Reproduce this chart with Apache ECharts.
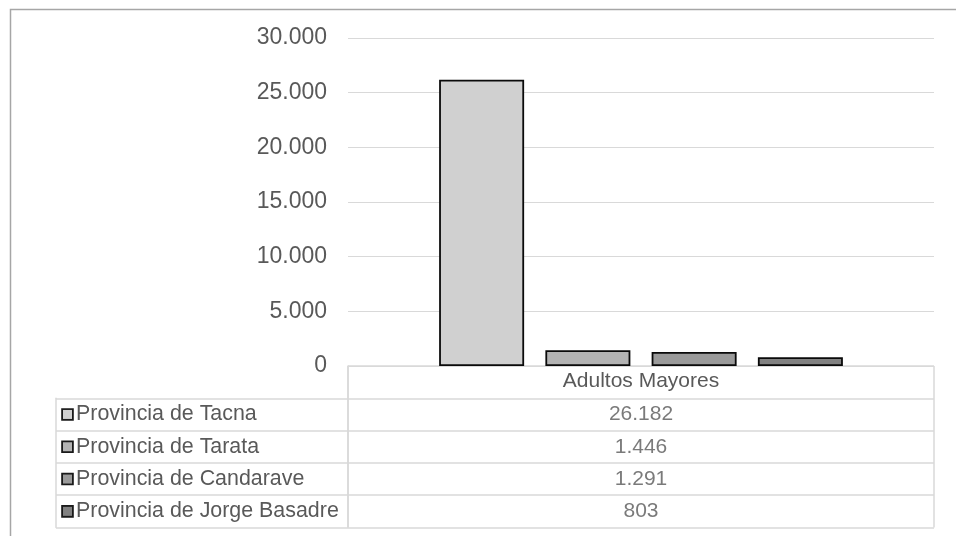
<!DOCTYPE html>
<html><head><meta charset="utf-8">
<script src="https://cdn.jsdelivr.net/npm/echarts@6/dist/echarts.min.js"></script>
<style>html,body{margin:0;padding:0;background:#fff}#c{width:956px;height:536px}</style>
</head><body><div id="c"></div>
<script>
// ---- data ----
const categories = ['Adultos Mayores'];
const provinces = ['Provincia de Tacna', 'Provincia de Tarata', 'Provincia de Candarave', 'Provincia de Jorge Basadre'];
const values = [26182, 1446, 1291, 803];
const yMin = 0, yMax = 30000, yInterval = 5000;
const headerRow = 'header';

// ---- style ----
const colors = ['#d0d0d0', '#b3b3b3', '#9a9a9a', '#818181'];
const txt = '#595959';
const lineC = '#d9d9d9';
const FONT = '"Liberation Sans", Arial, sans-serif';

function fmt(v) { return String(v).replace(/\B(?=(\d{3})+(?!\d))/g, '.'); }

const chart = echarts.init(document.getElementById('c'), null, { renderer: 'canvas' });

const rich = { t: { fontSize: 21.4, color: txt, fontFamily: FONT, padding: [0, 0, 0, 4] } };
colors.forEach((c, i) => {
  rich['m' + i] = { width: 9, height: 9, backgroundColor: c, borderColor: '#1a1a1a', borderWidth: 1.8 };
});

const barSeries = provinces.map((p, i) => ({
  type: 'bar', name: p, xAxisIndex: 0, yAxisIndex: 0,
  data: [values[i]],
  barWidth: 85, barGap: '25%',
  itemStyle: { color: colors[i], borderColor: '#0a0a0a', borderWidth: 1.8 },
  silent: true
}));

const option = {
  animation: false,
  backgroundColor: '#fff',
  textStyle: { fontFamily: FONT },
  graphic: [{
    type: 'rect', silent: true, z: -1,
    shape: { x: 10.5, y: 9.5, width: 1000, height: 1000 },
    style: { fill: 'none', stroke: '#a6a6a6', lineWidth: 1.5 }
  }],
  grid: [
    { left: 348, right: 22, top: 38, height: 328 },
    { left: 348, right: 22, top: 366, height: 161.5 },
    { left: 56, width: 292, top: 366 + 161.5 / 5, height: 161.5 * 4 / 5 }
  ],
  xAxis: [
    { gridIndex: 0, type: 'category', data: categories,
      axisLine: { show: false }, axisTick: { show: false },
      axisLabel: { fontSize: 21, color: txt, fontFamily: FONT, margin: 15, verticalAlign: 'middle' } },
    { gridIndex: 1, type: 'category', data: categories,
      axisLine: { show: false }, axisTick: { show: false }, axisLabel: { show: false },
      splitLine: { show: true, lineStyle: { color: lineC, width: 1.5 } } },
    { gridIndex: 2, type: 'value', show: false }
  ],
  yAxis: [
    { gridIndex: 0, type: 'value', min: yMin, max: yMax, interval: yInterval,
      axisLine: { show: false }, axisTick: { show: false },
      axisLabel: { fontSize: 23, color: txt, fontFamily: FONT, margin: 21, formatter: fmt },
      splitLine: { lineStyle: { color: lineC, width: 1.2 } } },
    { gridIndex: 1, type: 'category', inverse: true, data: [headerRow].concat(provinces),
      axisLine: { show: true, lineStyle: { color: lineC, width: 1.5 } },
      axisTick: { show: false }, axisLabel: { show: false },
      splitLine: { show: true, lineStyle: { color: lineC, width: 1.5 } } },
    { gridIndex: 2, type: 'category', inverse: true, data: provinces,
      axisLine: { show: true, lineStyle: { color: lineC, width: 1.5 } },
      axisTick: { show: false },
      axisLabel: { inside: true, margin: 7, align: 'left',
        formatter: (v, i) => '{m' + i + '|}{t|' + v + '}', rich: rich },
      splitLine: { show: true, lineStyle: { color: lineC, width: 1.5 } } }
  ],
  series: barSeries.concat([{
    type: 'scatter', xAxisIndex: 1, yAxisIndex: 1, symbolSize: 0, silent: true,
    data: provinces.map((p, i) => [categories[0], p, values[i]]),
    label: { show: true, position: 'inside', fontSize: 21, color: txt, fontFamily: FONT,
      formatter: p => fmt(p.value[2]) }
  }])
};
chart.setOption(option);
</script></body></html>
